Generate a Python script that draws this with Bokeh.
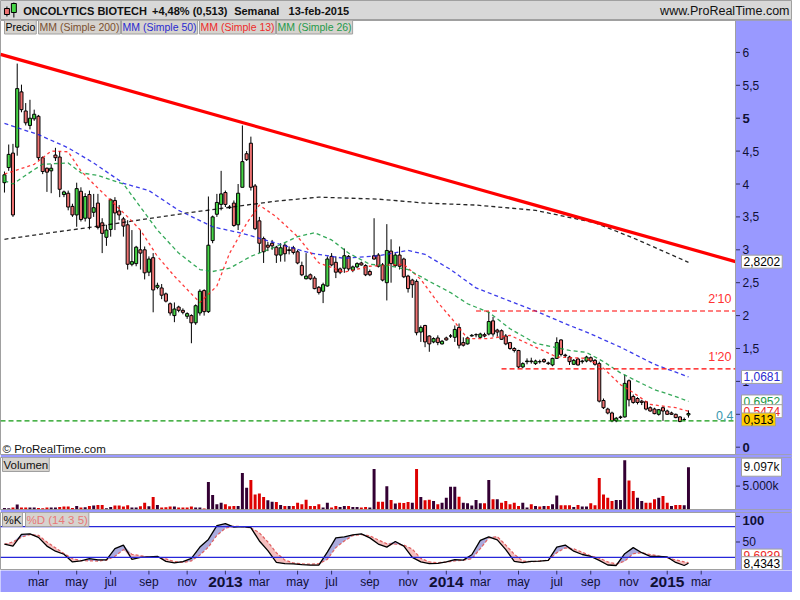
import numpy as np
import pandas as pd
from bokeh.plotting import figure
from bokeh.layouts import column
from bokeh.models import ColumnDataSource, Range1d, Label, Span, BoxAnnotation
from bokeh.core.properties import value
from bokeh.embed import file_html
from bokeh.resources import INLINE

# ---------------- data (weekly bars, Monday dates) ----------------
first_week = "2012-01-09"

opens = [4.02,4.25,4.47,4.56,5.40,5.11,4.89,4.99,5.03,4.40,
         4.24,4.20,4.44,4.41,3.84,3.86,3.66,3.53,3.89,3.48,
         3.84,3.57,3.71,3.41,3.19,3.31,3.75,3.59,3.47,3.38,
         2.78,2.79,3.00,3.00,2.66,2.88,2.43,2.42,2.33,2.18,
         2.00,2.13,2.08,1.99,2.00,1.89,2.04,2.38,2.06,3.14,
         3.54,3.69,3.87,3.65,3.71,3.38,3.95,4.46,4.62,3.97,
         3.44,3.17,3.07,3.10,3.04,2.92,3.07,3.00,3.03,2.97,
         2.76,2.56,2.62,2.57,2.43,2.37,2.45,2.90,2.81,2.71,
         2.72,2.90,2.69,2.74,2.80,2.76,2.67,2.91,2.92,2.77,
         2.50,2.98,2.76,2.92,2.86,2.60,2.54,2.52,1.75,1.85,
         1.69,1.60,1.66,1.57,1.66,1.69,1.67,1.82,1.59,1.57,
         1.69,1.71,1.67,1.71,1.72,1.92,1.78,1.77,1.69,1.59,
         1.50,1.47,1.22,1.30,1.31,1.27,1.30,1.33,1.28,1.25,
         1.35,1.63,1.40,1.37,1.26,1.34,1.30,1.31,1.36,1.32,
         1.27,0.71,0.58,0.52,0.40,0.45,0.46,1.01,0.77,0.74,
         0.70,0.69,0.60,0.58,0.50,0.60,0.55,0.52,0.50,0.46,
         0.42,0.49]
highs = [4.19,4.60,4.61,5.83,5.51,5.23,5.28,5.13,5.05,4.42,
         4.25,4.30,4.55,4.50,3.90,3.90,3.70,4.02,3.95,3.86,
         3.90,3.85,3.85,3.48,3.38,3.78,3.80,3.68,3.50,3.45,
         3.30,3.06,3.30,3.05,2.90,2.95,2.50,2.48,2.35,2.20,
         2.20,2.15,2.11,2.05,2.02,2.17,2.40,2.40,3.81,3.52,
         3.85,4.20,3.90,3.68,3.75,4.00,4.89,4.50,4.72,4.00,
         3.50,3.20,3.12,3.15,3.06,3.10,3.10,3.05,3.06,3.00,
         2.82,2.95,2.64,2.60,2.45,2.50,2.90,2.95,2.90,2.73,
         3.02,2.92,2.76,2.81,2.82,2.78,2.70,3.48,2.95,2.80,
         3.39,3.16,2.95,3.05,2.88,2.62,2.56,2.55,1.85,1.86,
         1.70,1.67,1.70,1.63,1.68,1.72,1.85,1.88,1.67,1.68,
         1.72,1.73,1.74,1.74,2.06,1.98,1.80,1.79,1.72,1.60,
         1.52,1.48,1.29,1.35,1.36,1.33,1.33,1.35,1.30,1.36,
         1.67,1.64,1.42,1.39,1.34,1.36,1.33,1.39,1.38,1.34,
         1.30,0.74,0.60,0.54,0.46,0.48,1.10,1.03,0.80,0.76,
         0.72,0.70,0.62,0.60,0.58,0.62,0.57,0.54,0.51,0.47,
         0.45,0.56]
lows = [3.87,4.20,3.50,4.43,5.09,4.89,4.83,4.96,4.36,4.15,
        3.88,3.86,4.35,3.80,3.80,3.60,3.50,3.35,3.43,3.43,
        3.31,3.50,3.31,2.95,3.06,3.20,3.30,3.45,3.20,2.70,
        2.75,2.75,2.70,2.55,2.60,2.05,2.40,2.25,2.20,2.00,
        1.90,2.05,2.02,1.95,1.58,1.86,2.00,2.00,2.04,3.10,
        3.50,3.60,3.65,3.62,3.35,3.30,3.95,4.35,3.90,3.30,
        2.95,2.80,2.98,3.00,2.80,2.82,2.82,2.93,2.93,2.78,
        2.60,2.55,2.54,2.40,2.32,2.19,2.44,2.75,2.57,2.63,
        2.65,2.68,2.66,2.72,2.76,2.60,2.60,2.85,2.73,2.52,
        2.23,2.50,2.74,2.70,2.57,2.35,2.27,1.70,1.60,1.52,
        1.45,1.58,1.55,1.56,1.62,1.66,1.60,1.50,1.53,1.56,
        1.68,1.67,1.66,1.67,1.70,1.68,1.68,1.63,1.55,1.48,
        1.44,1.20,1.20,1.26,1.27,1.25,1.27,1.28,1.25,1.23,
        1.34,1.38,1.36,1.25,1.25,1.24,1.27,1.29,1.29,1.24,
        0.68,0.58,0.50,0.38,0.38,0.43,0.45,0.62,0.66,0.65,
        0.64,0.56,0.54,0.50,0.48,0.40,0.49,0.49,0.44,0.38,
        0.40,0.45]
closes = [4.14,4.45,3.53,5.45,5.13,4.93,5.00,5.06,4.40,4.19,
          4.18,4.24,4.40,3.92,3.88,3.65,3.53,3.93,3.46,3.81,
          3.48,3.64,3.34,3.25,3.30,3.76,3.56,3.53,3.36,2.78,
          2.82,3.04,2.95,2.65,2.86,2.39,2.46,2.31,2.22,2.04,
          2.10,2.08,2.05,2.03,1.89,2.15,2.37,2.06,3.07,3.50,
          3.72,3.85,3.69,3.64,3.37,3.86,4.34,4.37,3.95,3.32,
          3.10,2.97,3.04,3.06,2.92,3.03,2.94,2.99,2.96,2.80,
          2.62,2.60,2.56,2.41,2.35,2.47,2.86,2.77,2.66,2.66,
          2.91,2.71,2.74,2.79,2.77,2.62,2.62,2.86,2.75,2.54,
          2.99,2.79,2.92,2.75,2.59,2.41,2.47,1.74,1.82,1.60,
          1.57,1.65,1.59,1.61,1.63,1.69,1.79,1.55,1.55,1.66,
          1.70,1.71,1.72,1.69,1.91,1.72,1.75,1.64,1.57,1.50,
          1.47,1.22,1.27,1.31,1.30,1.31,1.30,1.30,1.27,1.35,
          1.59,1.41,1.39,1.30,1.32,1.25,1.31,1.37,1.31,1.26,
          0.70,0.60,0.52,0.40,0.44,0.46,0.97,0.72,0.68,0.68,
          0.68,0.58,0.55,0.51,0.57,0.55,0.50,0.50,0.45,0.39,
          0.42,0.513]
volumes_k = [280,210,360,1000,360,360,360,360,280,210,
             360,360,360,500,570,570,280,710,360,430,
             710,780,930,930,210,500,780,780,570,850,
             360,360,640,1420,640,2640,930,360,430,570,
             570,360,360,360,570,360,360,140,5910,3060,
             1070,1420,1070,640,710,710,7830,4630,6340,3200,
             3420,2640,1920,1640,1570,930,710,710,710,1420,
             1070,2070,710,710,1070,360,1420,360,710,500,
             710,710,500,500,360,500,360,8690,1640,1640,
             4990,1990,1210,1420,1350,1570,1420,8690,2640,1920,
             2070,1780,1070,1420,2490,4840,4840,2710,1420,1280,
             780,1990,1280,1280,6340,2140,2140,1420,1780,1070,
             1420,710,1420,360,1070,710,570,710,710,1070,
             2990,850,850,850,500,930,570,570,1280,850,
             6770,3200,2490,1780,1990,1990,10600,6200,3920,2490,
             1780,1420,1420,2140,2490,2850,1420,710,930,930,
             850,9097]

# moving averages (week number, value)
ma200_weeks = [0, 21, 43, 64, 74, 88, 99, 111, 125, 139, 148, 161]
ma200_vals = [3.16, 3.35, 3.56, 3.74, 3.80, 3.77, 3.71, 3.68, 3.60, 3.41, 3.18, 2.81]
ma50_weeks = [0, 8, 15, 21, 28, 34, 41, 49, 56, 64, 72, 80, 88, 95, 99, 105, 111, 119, 125, 133, 137, 145, 153, 161]
ma50_vals = [4.92, 4.75, 4.55, 4.32, 4.01, 3.90, 3.60, 3.35, 3.25, 3.10, 2.95, 2.87, 2.91, 2.99, 2.93, 2.70, 2.42, 2.22, 2.07, 1.85, 1.75, 1.52, 1.26, 1.0681]
ma13_weeks = [0, 7, 11, 15, 18, 21, 25, 29, 32, 36, 40, 44, 46, 50, 53, 57, 60, 64, 69, 74, 80, 86, 94, 98, 102, 106, 109, 114, 119, 123, 130, 137, 141, 145, 148, 152, 158, 161]
ma13_vals = [4.15, 4.30, 4.50, 4.49, 4.20, 4.00, 3.75, 3.50, 3.30, 2.90, 2.60, 2.33, 2.20, 2.45, 2.95, 3.40, 3.68, 3.50, 3.20, 2.80, 2.66, 2.75, 2.78, 2.55, 2.20, 1.90, 1.65, 1.65, 1.70, 1.58, 1.37, 1.35, 1.20, 0.95, 0.83, 0.65, 0.60, 0.5474]
ma26_weeks = [0, 2, 7, 9, 15, 18, 22, 28, 32, 36, 41, 46, 49, 53, 58, 64, 69, 73, 77, 81, 86, 91, 95, 100, 105, 109, 114, 119, 125, 133, 137, 141, 145, 149, 153, 158, 161]
ma26_vals = [4.05, 4.00, 4.22, 4.30, 4.32, 4.17, 4.13, 4.00, 3.65, 3.30, 2.95, 2.70, 2.67, 2.72, 2.90, 3.05, 3.20, 3.26, 3.15, 2.95, 2.78, 2.75, 2.70, 2.52, 2.35, 2.18, 2.05, 1.80, 1.58, 1.47, 1.44, 1.30, 1.13, 1.00, 0.875, 0.77, 0.6952]

# stochastic %K / %D (14 3 5), read every second week
stoch_weeks = list(range(0, 161, 2)) + [161]
stoch_k = [46, 42, 65, 66, 59, 42, 32, 26, 11, 13,
           17.5, 15, 15, 37, 44, 16, 20, 21, 22, 12,
           9, 11.5, 18, 40, 55, 82, 86, 79, 80, 78,
           52, 33, 10, 7.8, 7, 5.5, 4.6, 4.6, 30, 58,
           60, 64, 66, 58, 46, 40, 51, 42, 20, 11,
           7.8, 8, 11, 15.5, 14.5, 25, 53, 60, 54, 35,
           12, 9.5, 12, 12.5, 14, 40, 44, 32, 25.5, 22,
           14, 5, 4, 27, 39, 29, 22, 22, 20.7, 10,
           4, 8.4343]
stoch_d = [45.5, 50, 59.5, 64.5, 63, 50, 38.5, 27.5, 17.5, 13.5,
           13, 12.7, 14.5, 22, 35, 26, 23, 20.7, 20, 17,
           11.5, 10, 13, 24.5, 40, 63, 77, 81, 80, 77.5,
           68, 50, 29, 14.5, 9, 7.2, 6.5, 7.5, 16, 39,
           52, 62.5, 64.6, 62, 54, 46.5, 46, 44, 36, 18,
           11, 9.5, 10.5, 13, 14.5, 17, 37, 58, 60.5, 44,
           26, 12.7, 11.5, 12.7, 14.3, 29, 38.5, 36.5, 30, 22.5,
           18.5, 11, 7, 12.5, 27, 29, 25.5, 22.5, 18.8, 15,
           11, 9.6939]

trend_weeks = [-0.93, 172.07]
trend_vals = [5.97, 2.8202]
level_vals = [2.07, 1.19]
level_start_weeks = [111, 117]
level_texts = ["2'10", "1'20"]
support_val = 0.4
support_text = "0,4"

month_labels = {3: "mar", 5: "may", 7: "jul", 9: "sep", 11: "nov"}
price_ticks = [0, 0.5, 1, 1.5, 2, 2.5, 3, 3.5, 4, 4.5, 5, 5.5, 6]
price_tick_labels = ["0", "0,5", "1", "1,5", "2", "2,5", "3", "3,5", "4", "4,5", "5", "5,5", "6"]
vol_ticks = [5000]
vol_tick_labels = ["5.000k"]
stoch_ticks = [50, 100]
stoch_tick_labels = ["50", "100"]

# ---------------- styling / geometry ----------------
LAV = "#9999ff"
GRAY = "#a0a0a0"
FONT = "Liberation Sans"
AXC = "#101035"
FWT = 792          # full frame width (chart + right scale band)
FW = 735           # chart part
X0, X1 = -0.933, 172.07
XE = X0 + (X1 - X0) * FWT / FW
PX = FW / (X1 - X0)   # pixels per week

n = len(closes)
idx = np.arange(n)
o = np.array(opens); c = np.array(closes)
top = np.maximum(o, c); bot = np.minimum(o, c)
hi = np.maximum(np.array(highs), top); lo = np.minimum(np.array(lows), bot)
body_col = ["#46d646" if cc >= oo else "#ee7272" for oo, cc in zip(o, c)]
vol_col = ["#330033" if (i == 0 or c[i] >= c[i - 1]) else "#dd0000" for i in range(n)]
src = ColumnDataSource(dict(x=idx, top=top, bot=bot, hi=hi, lo=lo, col=body_col,
                            vol=volumes_k, vcol=vol_col))

xr = Range1d(X0, XE)


def tag(f, text, y, color="black", bg="white", y_offset=0, x=FW + 6, size="12px",
        bold=False, border=GRAY, yunits="data", align="left", pad=2):
    f.add_layout(Label(x=x, y=y, x_units="screen", y_units=yunits, y_offset=y_offset,
                       text=text, text_color=color, text_font=FONT, text_font_size=size,
                       text_font_style="bold" if bold else "normal",
                       text_baseline="middle", text_align=align,
                       background_fill_color=bg, border_line_color=border, padding=pad))


def panel(fh, yr, gap, ticks, tick_labels, bold=(), label_offsets=None):
    f = figure(frame_width=FWT, frame_height=fh, x_range=xr, y_range=yr, title=None,
               toolbar_location=None, output_backend="svg",
               x_axis_location=None, y_axis_location=None,
               min_border_left=0, min_border_right=0, min_border_top=0, min_border_bottom=gap,
               background_fill_color="white", border_fill_color=LAV,
               outline_line_color=GRAY, outline_line_width=1)
    f.grid.visible = False
    f.add_layout(BoxAnnotation(left=X1, fill_color=LAV, fill_alpha=1.0, line_color=None,
                               level="underlay"))
    f.add_layout(Span(location=X1, dimension="height", line_color=GRAY, line_width=1))
    f.segment(x0=[X1] * len(ticks), y0=ticks, x1=[X1 + 4.5 / PX] * len(ticks), y1=ticks,
              color="#303060", line_width=1)
    offs = label_offsets or {}
    for t, lab in zip(ticks, tick_labels):
        b = lab in bold
        tag(f, lab, t, color=AXC, bg=None, border=None, x=FW + 7, bold=b,
            size="13px" if b else "12px", pad=0, y_offset=offs.get(lab, 0))
    return f


# ---------------- header ----------------
hd = figure(frame_width=FWT, frame_height=20, x_range=Range1d(0, 800), y_range=Range1d(0, 20),
            title=None, toolbar_location=None, output_backend="svg",
            x_axis_location=None, y_axis_location=None, min_border=0,
            background_fill_color="#d8d8d8", border_fill_color="#d8d8d8", outline_line_color=GRAY)
hd.grid.visible = False
hd.segment(x0=[6.5, 13.5], y0=[4, 3], x1=[6.5, 13.5], y1=[14, 18], color="black", line_width=1)
hd.quad(left=[4, 11], right=[9, 16], bottom=[6, 8], top=[12, 17],
        fill_color=["#ee7272", "#46d646"], line_color="black")
hd.text(x=[23, 153, 236, 291], y=[10] * 4,
        text=["ONCOLYTICS BIOTECH", "+4,48% (0,513)", "Semanal", "13-feb-2015"],
        text_font=value(FONT), text_font_size="11px", text_font_style="bold",
        text_baseline="middle", text_color="#111111")
hd.text(x=[797], y=[10], text=["www.ProRealTime.com"], text_font=value(FONT),
        text_font_size="12.5px", text_align="right", text_baseline="middle", text_color="#111111")

# ---------------- price panel ----------------
FH = 434
p = panel(FH, Range1d(-0.111, 6.485), 3, price_ticks, price_tick_labels, bold=("5", "0"))

p.segment(x0="x", y0="lo", x1="x", y1="hi", source=src, color="black", line_width=1)
p.vbar(x="x", top="top", bottom="bot", width=0.72, fill_color="col", line_color="black",
       line_width=1, source=src)

p.line(ma200_weeks, ma200_vals, line_color="#000000", line_dash="4 3", line_width=1.3, line_alpha=0.85)
p.line(ma50_weeks, ma50_vals, line_color="#1a1ae6", line_dash="4 3", line_width=1.3, line_alpha=0.85)
p.line(ma13_weeks, ma13_vals, line_color="#ff1a1a", line_dash="3 3", line_width=1.3, line_alpha=0.85)
p.line(ma26_weeks, ma26_vals, line_color="#129a3c", line_dash="4 3", line_width=1.3, line_alpha=0.85)

p.line(trend_weeks, trend_vals, line_color="#ff0000", line_width=3.2)
for lv, ls in zip(level_vals, level_start_weeks):
    p.line([ls, X1], [lv, lv], line_color="#ff0000", line_dash="5 3", line_width=1.2)
p.line([X0, X1], [support_val, support_val], line_color="#119911", line_dash="5 3", line_width=1.2)

for lv, lt in zip(level_vals, level_texts):
    tag(p, lt, lv, color="#ff3333", bg=None, border=None, x=FW - 4, align="right",
        y_offset=12, size="12.5px", pad=0)
tag(p, support_text, support_val, color="#3a98b0", bg=None, border=None, x=FW - 2, align="right",
    y_offset=5, size="12.5px", pad=0)

# legend boxes
leg = [("Precio", "black", 2), ("MM (Simple 200)", "#7a5030", 36), ("MM (Simple 50)", "#2a2ad0", 119),
       ("MM (Simple 13)", "#ee2a2a", 197), ("MM (Simple 26)", "#1f9a4a", 274)]
for t, col, xx in leg:
    tag(p, t, FH - 6.5, color=col, bg="#d6d3ce", x=xx + 2, yunits="screen", size="10.5px", pad=1)
tag(p, "\u00a9 ProRealTime.com", 6, color="#111111", bg=None, border=None, x=2, yunits="screen",
    size="11.5px", pad=0)

# right scale value boxes
tag(p, "2,8202", trend_vals[-1], color="black")
tag(p, "1,0681", ma50_vals[-1], color="#2a2ad0")
tag(p, "0,6952", ma26_vals[-1], color="#1f9a4a")
tag(p, "0,5474", ma13_vals[-1], color="#ee2a2a")
tag(p, "0,513", closes[-1], color="black", bg="#ffcc00", y_offset=-6)

# ---------------- volume panel ----------------
FHV = 52
pv = panel(FHV, Range1d(-64, 11200), 3, vol_ticks, vol_tick_labels)
pv.vbar(x="x", top="vol", bottom=0, width=0.7, fill_color="vcol", line_color=None, source=src)
tag(pv, "Volumen", FHV - 7, color="#111111", bg="#d6d3ce", x=2, yunits="screen", size="11.5px", pad=1)
tag(pv, "9.097k", volumes_k[-1], color="#111111")

# ---------------- stochastic panel ----------------
FHS = 58
ps = panel(FHS, Range1d(-5.8, 107.7), 0, stoch_ticks, stoch_tick_labels, bold=("100",),
           label_offsets={"100": -4})
k = np.array(stoch_k); d = np.array(stoch_d); sw = np.array(stoch_weeks)
ps.varea(x=sw, y1=d, y2=np.maximum(k, d), fill_color="#9c9cd8", fill_alpha=0.85)
ps.varea(x=sw, y1=np.minimum(k, d), y2=d, fill_color="#f4b8b8", fill_alpha=0.9)
ps.line(sw, d, line_color="#e06060", line_dash="3 2", line_width=1.2)
ps.line(sw, k, line_color="black", line_width=1.3)
for lvl in (80, 20):
    ps.line([X0, X1], [lvl, lvl], line_color="#2626d9", line_width=1.2)
tag(ps, "%K", FHS - 7, color="#111111", bg="#d6d3ce", x=2, yunits="screen", size="11.5px", pad=1)
tag(ps, "%D (14 3 5)", FHS - 7, color="#e87878", bg="#d6d3ce", x=25, yunits="screen", size="11.5px", pad=1)
tag(ps, "9,6939", stoch_d[-1], color="#ee2a2a", y_offset=7)
tag(ps, "8,4343", stoch_k[-1], color="black")

# ---------------- time scale band ----------------
all_weeks = pd.date_range(first_week, periods=int(X1) + 2, freq="W-MON")
tick_x, tick_text, tick_size, tick_style = [], [], [], []
for i in range(1, len(all_weeks)):
    dd, prev = all_weeks[i], all_weeks[i - 1]
    if dd.month != prev.month and (dd.month in month_labels or dd.month == 1) and i <= X1:
        tick_x.append(i)
        if dd.month == 1:
            tick_text.append(str(dd.year)); tick_size.append("15.5px"); tick_style.append("bold")
        else:
            tick_text.append(month_labels[dd.month]); tick_size.append("12px"); tick_style.append("normal")
tsrc = ColumnDataSource(dict(x=tick_x, t=tick_text, s=tick_size, st=tick_style))
xf = figure(frame_width=FWT, frame_height=22, x_range=xr, y_range=Range1d(0, 22), title=None,
            toolbar_location=None, output_backend="svg", x_axis_location=None, y_axis_location=None,
            min_border=0, background_fill_color=LAV, border_fill_color=LAV, outline_line_color=None)
xf.grid.visible = False
xf.segment(x0="x", y0=22, x1="x", y1=18, source=tsrc, color="#303060", line_width=1)
xf.text(x="x", y=10.5, text="t", text_font_size="s", text_font_style="st", source=tsrc,
        text_font=value(FONT), text_align="center", text_baseline="middle", text_color=AXC)

layout = column(hd, p, pv, ps, xf, spacing=0)
open("out.html", "w").write(file_html(layout, INLINE))
